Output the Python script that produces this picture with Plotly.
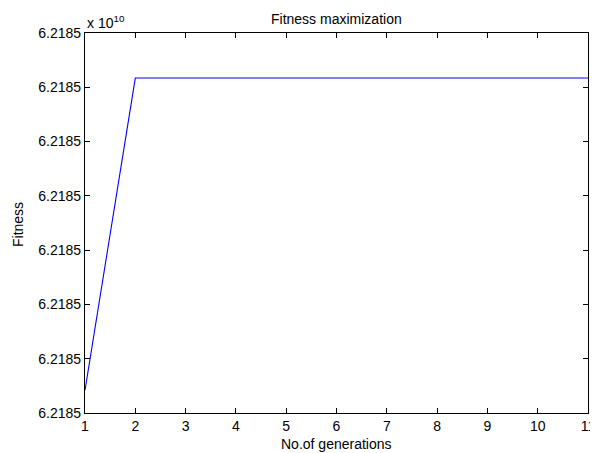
import plotly.graph_objects as go

generations = [1, 2, 3, 4, 5, 6, 7, 8, 9, 10, 11]
fitness = [62185004200, 62185061700, 62185061700, 62185061700, 62185061700,
           62185061700, 62185061700, 62185061700, 62185061700, 62185061700,
           62185061700]
y_tick_values = [62185000000, 62185010000, 62185020000, 62185030000,
                 62185040000, 62185050000, 62185060000, 62185070000]
y_tick_labels = ["6.2185"] * 8
x_tick_values = list(range(1, 12))

FONT = "Liberation Sans, Arial, sans-serif"
FS = 14

fig = go.Figure()
fig.add_trace(go.Scatter(x=generations, y=fitness, mode="lines",
                         line=dict(color="#0000ff", width=1.1),
                         showlegend=False, hoverinfo="skip"))

axis_common = dict(showline=True, linecolor="black", linewidth=1.2,
                   mirror="ticks", ticks="inside", ticklen=5, tickwidth=1,
                   tickcolor="black", showgrid=False, zeroline=False,
                   automargin=False,
                   tickfont=dict(family=FONT, size=FS, color="black"))

fig.update_xaxes(range=[1, 11], tickvals=x_tick_values, **axis_common)
fig.update_yaxes(range=[y_tick_values[0], y_tick_values[-1]],
                 tickvals=y_tick_values, ticktext=y_tick_labels,
                 **axis_common)

# page body has an 8px default margin, so the figure is sized to fit inside it
fig.update_layout(
    width=590, height=445,
    margin=dict(l=77, r=10, t=25, b=40),
    paper_bgcolor="white", plot_bgcolor="white",
    font=dict(family=FONT, size=FS, color="black"),
    annotations=[
        dict(text="Fitness maximization", xref="paper", yref="paper",
             x=0.5, y=1, xanchor="center", yanchor="bottom", yshift=4,
             showarrow=False, font=dict(family=FONT, size=FS)),
        dict(text="No.of generations", xref="paper", yref="paper",
             x=0.5, y=0, xanchor="center", yanchor="top", yshift=-21,
             showarrow=False, font=dict(family=FONT, size=FS)),
        dict(text="Fitness", xref="paper", yref="paper",
             x=0, y=0.5, xanchor="center", yanchor="middle", xshift=-67,
             yshift=-2, textangle=-90, showarrow=False,
             font=dict(family=FONT, size=FS)),
        dict(text="x 10<sup>10</sup>", xref="paper", yref="paper",
             x=0, y=1, xanchor="left", yanchor="bottom", yshift=0,
             showarrow=False, font=dict(family=FONT, size=FS)),
    ],
)

fig.write_html("out.html")
